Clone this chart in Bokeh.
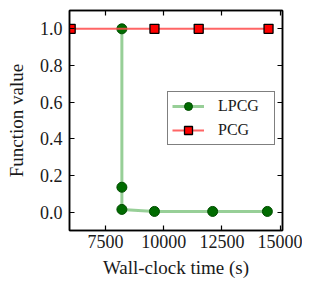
from bokeh.plotting import figure
from bokeh.models import Range1d, LinearAxis, FixedTicker, Legend, LegendItem, CustomJSTickFormatter
from bokeh.embed import file_html
from bokeh.resources import INLINE

# Data
lpcg_time = [8200, 8200, 8200, 9600, 12100, 14450]
lpcg_value = [1.0, 0.136, 0.015, 0.004, 0.004, 0.004]
pcg_time = [6000, 9600, 11500, 14500]
pcg_value = [1.0, 1.0, 1.0, 1.0]
x_ticks = [7500, 10000, 12500, 15000]
y_ticks = [0.0, 0.2, 0.4, 0.6, 0.8, 1.0]

FONT = "'Liberation Serif', 'Times New Roman', serif"
TXT = "#1a1a1a"

p = figure(frame_width=213, frame_height=220, output_backend="svg", toolbar_location=None,
           x_range=Range1d(5950, 15100), y_range=Range1d(-0.1, 1.1),
           min_border_left=69, min_border_top=10, min_border_right=20, min_border_bottom=50)
p.background_fill_color = "white"
p.border_fill_color = "white"
p.grid.visible = False
p.outline_line_color = "black"
p.outline_line_width = 1.5

l_line = p.line(lpcg_time, lpcg_value, line_color="#7dc37d", line_width=3, line_alpha=0.8)
l_pts = p.scatter(lpcg_time, lpcg_value, marker="circle", size=10, fill_color="#006b00",
                  line_color="#004d00", line_width=1)
r_line = p.line(pcg_time, pcg_value, line_color="#ff4a4a", line_width=2, line_alpha=0.85)
r_pts = p.scatter(pcg_time, pcg_value, marker="square", size=9, fill_color="#ff0000",
                  line_color="black", line_width=1.3)

def style_axis(ax, labels=True):
    ax.axis_line_color = "black"
    ax.axis_line_width = 1.5
    ax.major_tick_in = 5
    ax.major_tick_out = 0
    ax.minor_tick_line_color = None
    ax.major_tick_line_color = "black"
    ax.major_tick_line_width = 1.2
    if labels:
        ax.major_label_text_font = FONT
        ax.major_label_text_font_size = "18px"
        ax.major_label_text_color = TXT
        ax.axis_label_text_font = FONT
        ax.axis_label_text_font_size = "19px"
        ax.axis_label_text_font_style = "normal"
        ax.axis_label_text_color = TXT
    else:
        ax.formatter = CustomJSTickFormatter(code="return '';")
        ax.major_label_standoff = 0

p.xaxis.ticker = FixedTicker(ticks=x_ticks)
p.yaxis.ticker = FixedTicker(ticks=y_ticks)
p.xaxis.axis_label = "Wall-clock time (s)"
p.yaxis.axis_label = "Function value"
p.yaxis.formatter = CustomJSTickFormatter(code="return tick.toFixed(1);")
style_axis(p.xaxis[0])
style_axis(p.yaxis[0])
p.xaxis[0].major_label_standoff = 4
p.yaxis[0].major_label_standoff = 7
p.xaxis[0].axis_label_standoff = 6
p.yaxis[0].axis_label_standoff = 10

top = LinearAxis(ticker=FixedTicker(ticks=x_ticks))
right = LinearAxis(ticker=FixedTicker(ticks=y_ticks))
style_axis(top, labels=False)
style_axis(right, labels=False)
p.add_layout(top, "above")
p.add_layout(right, "right")

legend = Legend(items=[LegendItem(label="LPCG", renderers=[l_line, l_pts]),
                       LegendItem(label="PCG", renderers=[r_line, r_pts])],
                location=(98, 85))
legend.border_line_color = "black"
legend.border_line_width = 1
legend.label_text_font = FONT
legend.label_text_font_size = "16px"
legend.label_text_color = TXT
legend.glyph_width = 32
legend.glyph_height = 20
legend.label_standoff = 14
legend.label_width = 52
legend.spacing = 4
legend.padding = 4
legend.margin = 0
legend.background_fill_alpha = 1
p.add_layout(legend, "center")

open("out.html", "w").write(file_html(p, INLINE))
